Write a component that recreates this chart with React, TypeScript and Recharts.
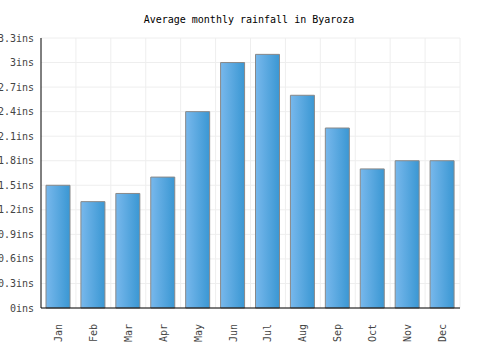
import { BarChart, Bar, XAxis, YAxis, CartesianGrid } from "recharts";

const MONTHS = ["Jan", "Feb", "Mar", "Apr", "May", "Jun", "Jul", "Aug", "Sep", "Oct", "Nov", "Dec"];
const RAINFALL = [1.5, 1.3, 1.4, 1.6, 2.4, 3.0, 3.1, 2.6, 2.2, 1.7, 1.8, 1.8];
const Y_TICKS = [0, 0.3, 0.6, 0.9, 1.2, 1.5, 1.8, 2.1, 2.4, 2.7, 3.0, 3.3];

const data = MONTHS.map((m, i) => ({ month: m, value: RAINFALL[i] }));

const FONT = "'DejaVu Sans Mono', monospace";

const fmtTick = (v: number) => `${Math.round(v * 10) / 10}ins`;

function MonthTick(props: any) {
  const { x, y, payload } = props;
  return (
    <text
      x={x}
      y={y + 8}
      transform={`rotate(-90, ${x}, ${y + 8})`}
      textAnchor="end"
      dy="0.35em"
      fontSize={10}
      fontFamily={FONT}
      fill="#444"
    >
      {payload.value}
    </text>
  );
}

export default function App() {
  return (
    <div style={{ position: "absolute", left: 0, top: 0, width: 500, height: 350, background: "#fff" }}>
      <svg width={500} height={30} style={{ position: "absolute", left: 0, top: 0 }}>
        <text x={249} y={23} textAnchor="middle" fontSize={10} fontFamily={FONT} fill="#000">
          Average monthly rainfall in Byaroza
        </text>
      </svg>
      <BarChart
        width={500}
        height={350}
        data={data}
        margin={{ top: 38, right: 40, bottom: 0, left: 0 }}
      >
        <defs>
          <linearGradient id="barGrad" x1="0" y1="0" x2="1" y2="0">
            <stop offset="0%" stopColor="#78b8ec" />
            <stop offset="100%" stopColor="#3a97d3" />
          </linearGradient>
        </defs>
        <CartesianGrid
          stroke="#eeeeee"
          verticalCoordinatesGenerator={({ offset }: any) =>
            MONTHS.map((_, i) => offset.left + ((i + 1) * offset.width) / MONTHS.length)
          }
        />
        <XAxis
          dataKey="month"
          interval={0}
          tick={<MonthTick />}
          tickLine={false}
          axisLine={{ stroke: "#000", strokeWidth: 1 }}
          height={42}
        />
        <YAxis
          domain={[0, 3.3]}
          ticks={Y_TICKS}
          tickFormatter={fmtTick}
          tick={{ fontSize: 10, fontFamily: FONT, fill: "#444" }}
          tickLine={false}
          tickSize={6}
          tickMargin={1}
          axisLine={{ stroke: "#000", strokeWidth: 1 }}
          width={41}
          interval={0}
        />
        <Bar
          dataKey="value"
          barSize={24}
          fill="url(#barGrad)"
          stroke="#888888"
          strokeWidth={1}
          isAnimationActive={false}
        />
      </BarChart>
    </div>
  );
}
